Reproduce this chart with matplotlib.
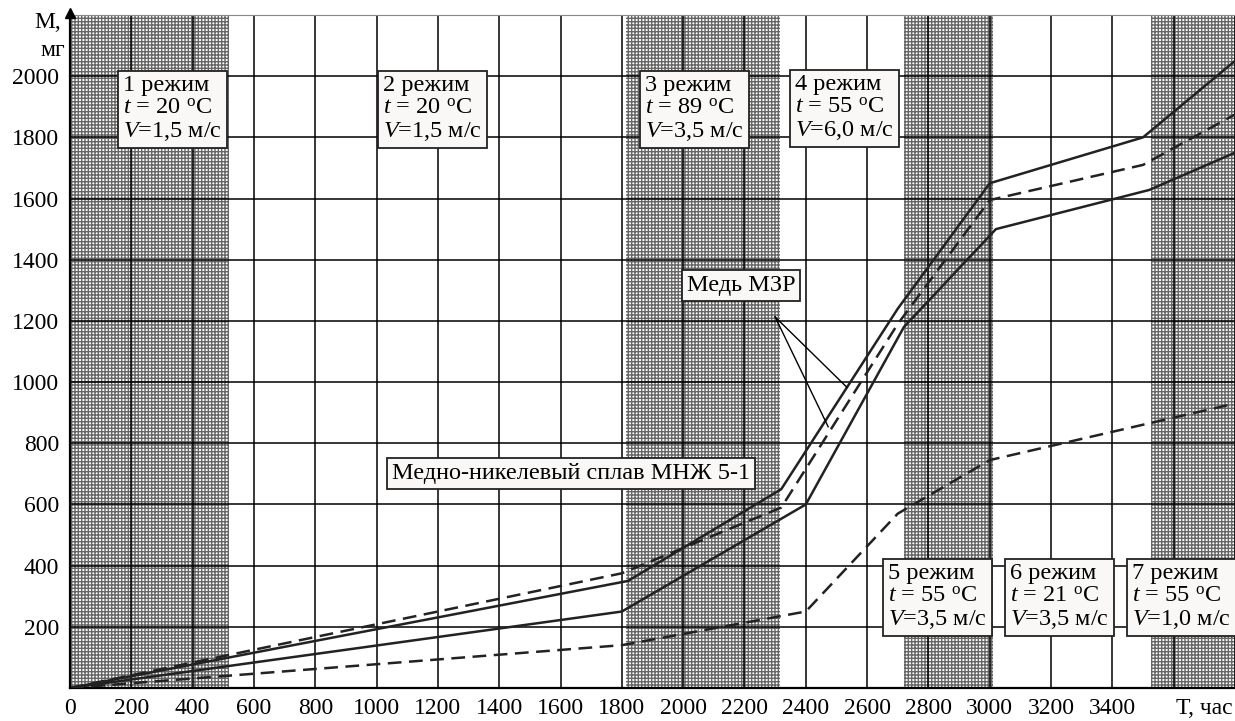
import matplotlib
matplotlib.use('Agg')
import matplotlib.pyplot as plt

plt.rcParams['font.family'] = ['Liberation Serif', 'DejaVu Serif']
plt.rcParams['mathtext.fontset'] = 'custom'
plt.rcParams['mathtext.rm'] = 'Liberation Serif'
plt.rcParams['mathtext.it'] = 'Liberation Serif:italic'
plt.rcParams['hatch.linewidth'] = 1.0

# copper M3R - upper solid, middle dashed, lower solid
cu_top_x = [0, 1820, 2320, 2700, 3000, 3500, 3800]
cu_top_y = [0, 350, 650, 1240, 1650, 1800, 2050]
cu_mid_x = [0, 1800, 2320, 2700, 3000, 3500, 3800]
cu_mid_y = [0, 375, 590, 1190, 1595, 1710, 1875]
cu_low_x = [0, 1800, 2400, 2720, 3020, 3520, 3800]
cu_low_y = [0, 250, 600, 1180, 1500, 1628, 1750]
# copper-nickel alloy MNZh 5-1
cuni_x = [0, 1800, 2400, 2700, 3000, 3800]
cuni_y = [0, 140, 250, 570, 745, 930]

# shaded regime intervals
shade = [(0, 520), (1815, 2315), (2720, 3010), (3525, 3800)]

regimes = [
    ('1', '20', '1,5'), ('2', '20', '1,5'), ('3', '89', '3,5'), ('4', '55', '6,0'),
    ('5', '55', '3,5'), ('6', '21', '3,5'), ('7', '55', '1,0'),
]
regime_pos = [(157, 2020), (1005, 2020), (1859, 2020), (2348, 2024),
              (2652, 425), (3050, 425), (3448, 425)]

xticks = list(range(0, 3401, 200))
yticks = list(range(200, 2001, 200))

fig = plt.figure(figsize=(12.35, 7.21), dpi=100)
ax = fig.add_axes([70 / 1235, 33 / 721, 1165 / 1235, 673 / 721])
ax.set_xlim(0, 3800)
ax.set_ylim(0, 2200)

for a, b in shade:
    ax.axvspan(a, b, facecolor='white', edgecolor='#666666', hatch='+++++',
               lw=0, zorder=1)

for x in range(200, 3801, 200):
    ax.axvline(x, color='black', lw=1.1, zorder=2)
for y in range(200, 2201, 200):
    ax.axhline(y, color='black', lw=1.1, zorder=2)

ax.plot(cu_top_x, cu_top_y, color='#222222', lw=1.8, zorder=3)
ax.plot(cu_low_x, cu_low_y, color='#222222', lw=1.8, zorder=3)
ax.plot(cu_mid_x, cu_mid_y, color='#222222', lw=1.8, dashes=(5.5, 3), zorder=3)
ax.plot(cuni_x, cuni_y, color='#222222', lw=1.8, dashes=(5.5, 3), zorder=3)

box = dict(boxstyle='square,pad=0.2', facecolor='#f9f8f6', edgecolor='#222222', lw=1.3)
for (n, t, v), (x, y) in zip(regimes, regime_pos):
    s = n + ' режим\n$t$ = ' + t + r' $^{\mathrm{o}}$C' + '\n$V$=' + v + ' м/с'
    ax.text(x + 16, y - 16, s, fontsize=17.5, ha='left', va='top', linespacing=1.1,
            bbox=box, zorder=5)

ax.text(2012, 1350, 'Медь МЗР', fontsize=17.5, ha='left', va='top', bbox=box, zorder=5)
ax.text(1050, 736, 'Медно-никелевый сплав МНЖ 5-1', fontsize=17.5, ha='left', va='top',
        bbox=box, zorder=5)

# pointer lines from the copper label
ax.plot([2300, 2534], [1213, 983], color='black', lw=1.0, zorder=4)
ax.plot([2300, 2473], [1213, 854], color='black', lw=1.0, zorder=4)

ax.set_xticks(xticks)
ax.set_xticklabels([str(v) for v in xticks], fontsize=17)
ax.set_yticks(yticks)
ax.set_yticklabels([str(v) for v in yticks], fontsize=17)
ax.tick_params(length=0, pad=8)
ax.tick_params(axis='x', pad=7)

ax.spines['right'].set_visible(False)
ax.spines['top'].set_color('#888888')
ax.spines['top'].set_linewidth(0.8)
ax.spines['left'].set_linewidth(1.6)
ax.spines['bottom'].set_linewidth(1.6)
ax.spines['left'].set_zorder(6)

ax.plot(0, 2205, marker='^', ms=7, color='black', clip_on=False, zorder=7)
fig.text(34 / 1235, 1 - 22 / 721, 'М,', fontsize=17, ha='left', va='center', zorder=10)
fig.text(40 / 1235, 1 - 50 / 721, 'мг', fontsize=17, ha='left', va='center', zorder=10)
fig.text(1176 / 1235, 1 - 708 / 721, 'Т, час', fontsize=17, ha='left', va='center')

fig.savefig('out.png', dpi=100)
